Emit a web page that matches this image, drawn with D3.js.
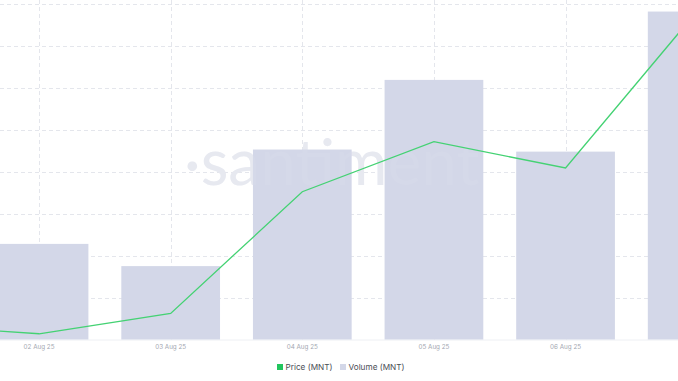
<!DOCTYPE html>
<html>
<head>
<meta charset="utf-8">
<script src="https://cdn.jsdelivr.net/npm/d3@7"></script>
<style>
  html, body { margin: 0; padding: 0; background: #ffffff; }
  svg { display: block; }
</style>
</head>
<body>
<svg id="chart" width="678" height="381"></svg>
<script>
// ---- data ----
const categories = ["01 Aug 25", "02 Aug 25", "03 Aug 25", "04 Aug 25", "05 Aug 25", "06 Aug 25", "07 Aug 25"];
const volumeValues = [21.0e6, 22.8e6, 17.5e6, 45.3e6, 61.9e6, 44.8e6, 78.2e6];
const priceValues = [0.6507, 0.6441, 0.6587, 0.7457, 0.7815, 0.7627, 0.8750];
const volumeTicks = [0, 10e6, 20e6, 30e6, 40e6, 50e6, 60e6, 70e6, 80e6];
const tickLabels = ["02 Aug 25", "03 Aug 25", "04 Aug 25", "05 Aug 25", "06 Aug 25"];
const legendLabels = ["Price (MNT)", "Volume (MNT)"];

// ---- layout ----
const W = 678, H = 381;
const plotTop = 4, plotBottom = 339.5;
const svg = d3.select("#chart");

const x = d3.scaleBand()
  .domain(categories)
  .range([-158.4, 763.0])
  .paddingInner(0.25)
  .paddingOuter(0.125);

const yVol = d3.scaleLinear().domain([0, 80e6]).range([plotBottom, plotTop]);
const yPrice = d3.scaleLinear().domain([0.64, 0.88]).range([plotBottom, plotTop]);

const gridColor = "#e4e6ec";

// horizontal grid
svg.append("g")
  .selectAll("line")
  .data(volumeTicks.slice(1))
  .join("line")
  .attr("x1", 0).attr("x2", W)
  .attr("y1", d => Math.round(yVol(d)) + 0.5)
  .attr("y2", d => Math.round(yVol(d)) + 0.5)
  .attr("stroke", gridColor)
  .attr("stroke-width", 1)
  .attr("stroke-dasharray", "4,3");

// vertical grid
svg.append("g")
  .selectAll("line")
  .data(categories)
  .join("line")
  .attr("x1", d => Math.round(x(d) + x.bandwidth() / 2) + 0.5)
  .attr("x2", d => Math.round(x(d) + x.bandwidth() / 2) + 0.5)
  .attr("y1", 0).attr("y2", plotBottom)
  .attr("stroke", gridColor)
  .attr("stroke-width", 1)
  .attr("stroke-dasharray", "4,3");

// baseline
svg.append("line")
  .attr("x1", 0).attr("x2", W)
  .attr("y1", plotBottom + 0.5).attr("y2", plotBottom + 0.5)
  .attr("stroke", "#eef0f4");

// watermark behind bars
svg.append("text")
  .attr("x", 184)
  .attr("y", 185)
  .attr("font-family", "Lato, 'Open Sans', sans-serif")
  .attr("font-size", 64)
  .attr("fill", "#e6e8f0")
  .text("\u00b7santiment");

// bars
svg.append("g")
  .selectAll("rect")
  .data(categories)
  .join("rect")
  .attr("x", d => x(d))
  .attr("width", x.bandwidth())
  .attr("y", (d, i) => yVol(volumeValues[i]))
  .attr("height", (d, i) => yVol(0) - yVol(volumeValues[i]))
  .attr("fill", "#d3d7e8");

// watermark faint overlay on bars
svg.append("text")
  .attr("x", 184)
  .attr("y", 185)
  .attr("font-family", "Lato, 'Open Sans', sans-serif")
  .attr("font-size", 64)
  .attr("fill", "#ffffff")
  .attr("opacity", 0.05)
  .text("\u00b7santiment");

// price line
const line = d3.line()
  .x((d, i) => x(categories[i]) + x.bandwidth() / 2)
  .y(d => yPrice(d));

svg.append("path")
  .datum(priceValues)
  .attr("d", line)
  .attr("fill", "none")
  .attr("stroke", "#44d273")
  .attr("stroke-width", 1.3);

// x axis labels (only those in view)
const xAxis = d3.axisBottom(x).tickValues(tickLabels).tickSize(0).tickPadding(0);
const gx = svg.append("g")
  .attr("transform", `translate(0,${plotBottom})`)
  .call(xAxis);
gx.select(".domain").remove();
gx.selectAll("text")
  .attr("dy", null)
  .attr("y", 9)
  .attr("font-family", "Inter, 'Noto Sans', sans-serif")
  .attr("font-size", 6.3)
  .attr("fill", "#a3a7b1");

// legend
const legendColors = ["#22c55e", "#d3d7e8"];
const legendX = [277, 340];
const lg = svg.append("g");
legendLabels.forEach((lab, i) => {
  lg.append("rect")
    .attr("x", legendX[i]).attr("y", 364)
    .attr("width", 6).attr("height", 6)
    .attr("fill", legendColors[i]);
  lg.append("text")
    .attr("x", legendX[i] + 8.5)
    .attr("y", 370)
    .attr("font-family", "Inter, 'Noto Sans', sans-serif")
    .attr("font-size", 8.2)
    .attr("fill", "#4a4d55")
    .text(lab);
});
</script>
</body>
</html>
